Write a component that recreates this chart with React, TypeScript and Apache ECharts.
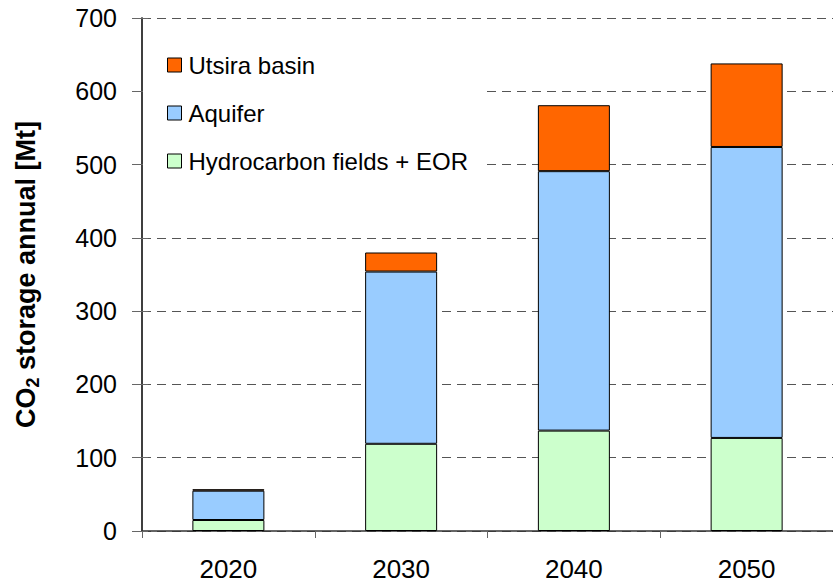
import React, { useEffect, useRef } from "react";
import * as echarts from "echarts";

const categories = ["2020", "2030", "2040", "2050"];
const hydrocarbon = [15, 119, 137, 127];
const aquifer = [40, 235, 354, 397];
const utsira = [2, 26, 90, 114];
const yTicks = [0, 100, 200, 300, 400, 500, 600, 700];

const FONT = "'Liberation Sans', Arial, sans-serif";

export default function App() {
  const ref = useRef<HTMLDivElement>(null);
  useEffect(() => {
    if (!ref.current) return;
    const chart = echarts.init(ref.current, undefined, { renderer: "svg" });
    const bar = (name: string, data: number[], color: string) => ({
      name,
      type: "bar",
      stack: "total",
      data,
      barWidth: 72,
      itemStyle: { color, borderColor: "#000", borderWidth: 1 },
    });
    chart.setOption({
      animation: false,
      backgroundColor: "#fff",
      textStyle: { fontFamily: FONT },
      grid: { left: 142, top: 18, width: 697, height: 513 },
      legend: {
        orient: "vertical",
        left: 143,
        top: 43,
        padding: [10, 17, 26, 24],
        backgroundColor: "#fff",
        itemWidth: 14,
        itemHeight: 14,
        itemGap: 24,
        icon: "rect",
        data: ["Utsira basin", "Aquifer", "Hydrocarbon fields + EOR"],
        textStyle: { fontSize: 24, color: "#000", fontFamily: FONT, lineHeight: 24, padding: [0, 0, 0, 2] },
        itemStyle: { borderColor: "#000", borderWidth: 1 },
      },
      xAxis: {
        type: "category",
        data: categories,
        axisLine: { lineStyle: { color: "#333", width: 1.5 } },
        axisTick: { show: true, length: 7, lineStyle: { color: "#666" } },
        axisLabel: { fontSize: 26, color: "#000", margin: 25, fontFamily: FONT },
      },
      yAxis: [
        {
          type: "value",
          min: 0,
          max: 700,
          interval: 100,
          name: "{a|CO}{s|2}{a| storage annual [Mt]}",
          nameLocation: "middle",
          nameGap: 100,
          nameTextStyle: {
            rich: {
              a: { fontSize: 27, fontWeight: "bold", color: "#000", fontFamily: FONT, lineHeight: 32 },
              s: { fontSize: 18, fontWeight: "bold", color: "#000", fontFamily: FONT, verticalAlign: "bottom", lineHeight: 32, padding: [7, 0, 0, 0] },
            },
          },
          axisLine: { show: true, lineStyle: { color: "#333", width: 1.5 } },
          axisTick: { show: true, length: 10, lineStyle: { color: "#666" } },
          axisLabel: {
            fontSize: 25,
            color: "#000",
            margin: 25,
            fontFamily: FONT,
            formatter: (v: number) => (yTicks.includes(v) ? String(v) : ""),
          },
          splitLine: { show: true, lineStyle: { color: "#555", type: [9, 6], width: 1 } },
        },
        {
          type: "value",
          min: 0,
          max: 700,
          interval: 100,
          position: "left",
          axisLine: { show: true, lineStyle: { color: "#333", width: 1.5 } },
          axisTick: { show: true, inside: true, length: 6, lineStyle: { color: "#666" } },
          axisLabel: { show: false },
          splitLine: { show: false },
        },
      ],
      series: [
        bar("Hydrocarbon fields + EOR", hydrocarbon, "#CCFFCC"),
        bar("Aquifer", aquifer, "#99CCFF"),
        bar("Utsira basin", utsira, "#FF6600"),
      ],
    });
    return () => chart.dispose();
  }, []);
  return <div ref={ref} style={{ position: "fixed", left: 0, top: 0, width: 833, height: 585 }} />;
}
